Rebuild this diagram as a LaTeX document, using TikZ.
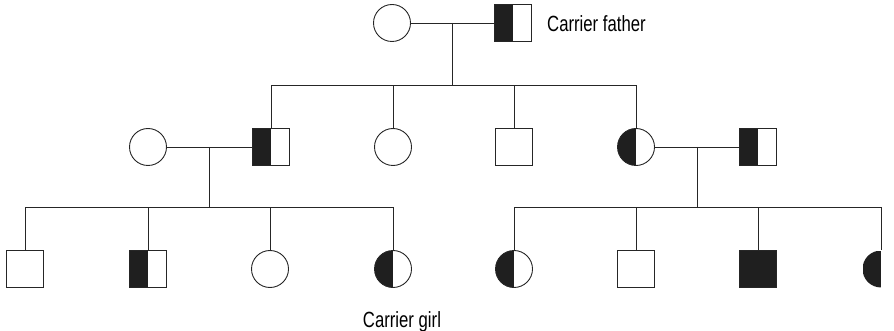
\documentclass[tikz,border=0pt]{standalone}
\usepackage{fontspec}
\newfontfamily\labelfont[FakeStretch=0.76]{Liberation Sans}
\usetikzlibrary{calc}
\definecolor{pedfill}{gray}{0.12}
\definecolor{pedline}{gray}{0.15}
\begin{document}
\begin{tikzpicture}[x=1pt,y=-1pt,
  line/.style={draw=pedline, line width=0.9pt},
  male/.style={rectangle, draw=pedline, line width=0.9pt, minimum size=37pt, inner sep=0pt},
  female/.style={circle, draw=pedline, line width=0.9pt, minimum size=37pt, inner sep=0pt},
  carrier/.style={path picture={\fill[pedfill] (path picture bounding box.south west) rectangle (path picture bounding box.north);}},
  affected/.style={fill=pedfill},
  lbl/.style={font=\labelfont\fontsize{22}{26}\selectfont, inner sep=0pt}
]
\useasboundingbox (0,0) rectangle (894,331);

% generation I
\node[female] (gm) at (392,23) {};
\node[male,carrier] (gf) at (513,23) {};
\node[lbl, anchor=base west] (lf) at (547,31.5) {Carrier father};

% generation II
\node[female] (sp1) at (148,147) {};
\node[male,carrier] (f2) at (271,147) {};
\node[female] (d2) at (393,147) {};
\node[male] (s2) at (514,147) {};
\node[female,carrier] (m2) at (636,147) {};
\node[male,carrier] (sp2) at (758,147) {};

% generation III, left family
\node[male] (a1) at (25,269) {};
\node[male,carrier] (a2) at (148,269) {};
\node[female] (a3) at (270,269) {};
\node[female,carrier] (a4) at (393,269) {};
\node[lbl, anchor=base] (lg) at (402,327.5) {Carrier girl};

% generation III, right family
\node[female,carrier] (b1) at (514,269) {};
\node[male] (b2) at (636,269) {};
\node[male,affected] (b3) at (758,269) {};
\node[circle, minimum size=37pt, inner sep=0pt, carrier] (b4) at (881,269) {};

% matings and lines of descent
\draw[line] (gm) -- (gf);
\coordinate (u1) at ($(gm.east)!0.5!(gf.west)$);
\coordinate (r2) at (u1 |- 0,85);
\draw[line] (u1) -- (r2);
\draw[line] (f2.north) -- (f2.north |- r2) -- (m2.north |- r2) -- (m2.north);
\draw[line] (d2.north) -- (d2.north |- r2);
\draw[line] (s2.north) -- (s2.north |- r2);

\draw[line] (sp1) -- (f2);
\coordinate (u2) at ($(sp1.east)!0.5!(f2.west)$);
\coordinate (r3a) at (u2 |- 0,207);
\draw[line] (u2) -- (r3a);
\draw[line] (a1.north) -- (a1.north |- r3a) -- (a4.north |- r3a) -- (a4.north);
\draw[line] (a2.north) -- (a2.north |- r3a);
\draw[line] (a3.north) -- (a3.north |- r3a);

\draw[line] (m2) -- (sp2);
\coordinate (u3) at ($(m2.east)!0.5!(sp2.west)$);
\coordinate (r3b) at (u3 |- 0,207);
\draw[line] (u3) -- (r3b);
\draw[line] (b1.north) -- (b1.north |- r3b) -- (b4.north |- r3b) -- (b4.north);
\draw[line] (b2.north) -- (b2.north |- r3b);
\draw[line] (b3.north) -- (b3.north |- r3b);
\end{tikzpicture}
\end{document}
